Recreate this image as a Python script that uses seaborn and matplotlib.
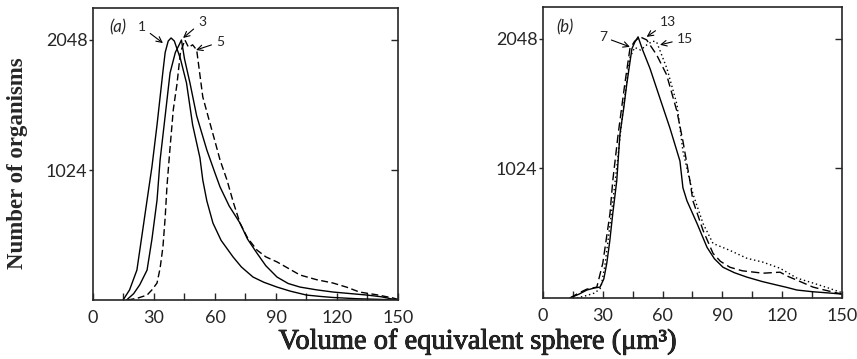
import numpy as np
import pandas as pd
import matplotlib
matplotlib.use("Agg")
import matplotlib.pyplot as plt
import matplotlib.patheffects as pe
import seaborn as sns

# panel (a): curves 1, 3 (solid) and 5 (dashed)
x1 = [14.8, 18, 21.6, 24, 26.6, 29, 31.5, 34.4, 35.5, 37, 38.4, 40, 43, 46, 49, 52.6, 54, 56, 59, 63,
      68.9, 73, 78.7, 84, 90.5, 97, 105, 112, 118, 130, 141, 150]
y1 = [0, 80, 236, 500, 787, 1050, 1380, 1800, 1950, 2040, 2064, 2040, 1900, 1709, 1380, 1120, 945, 780, 606, 470,
      339, 260, 181, 140, 102, 70, 39, 28, 20, 10, 5, 0]

x3 = [16.5, 20, 23, 26.6, 29, 31.5, 33, 35.5, 37.9, 40.5, 42.8, 43.5, 45, 47.7, 51, 56, 60, 62.5, 67,
      72.3, 76, 80.6, 85, 90.5, 96, 101.8, 110, 118, 127, 134.8, 142, 147, 150]
y3 = [0, 50, 120, 236, 480, 787, 1102, 1450, 1788, 1950, 2024, 2048, 1900, 1709, 1450, 1181, 1000, 890, 740,
      606, 480, 370, 270, 181, 130, 102, 80, 63, 50, 39, 25, 8, 0]

x5 = [17, 22, 26.6, 29, 31.5, 33, 34.4, 35.5, 36.4, 37.9, 39.5, 41.3, 43, 45.2, 47, 49, 51, 54, 57.5,
      60, 62.5, 65.9, 69, 72.3, 76, 80.6, 85, 90.5, 96, 101.8, 110, 118, 125, 131, 140, 147.5, 150]
y5 = [0, 15, 39, 80, 134, 250, 418, 650, 900, 1200, 1500, 1700, 1950, 2048, 1990, 2010, 1969, 1600, 1394,
      1250, 1102, 945, 770, 606, 490, 394, 340, 300, 250, 197, 160, 134, 100, 63, 40, 16, 5]

# panel (b): curves 7 (solid), 13 (dashed), 15 (dotted)
x7 = [13.5, 18, 22, 26, 28.6, 30.5, 32, 33.5, 35, 37, 38.6, 40.5, 42, 44.6, 46, 47.7, 50, 53.7, 58.7,
      63.7, 68.7, 70.2, 72.2, 77.3, 82.3, 86, 90.3, 96, 102.3, 110, 117.4, 122, 127.4, 135, 144, 150]
y7 = [0, 30, 63, 80, 86, 150, 275, 450, 667, 926, 1295, 1500, 1687, 1970, 2020, 2064, 1960, 1813, 1577,
      1342, 1083, 871, 769, 588, 400, 310, 243, 200, 165, 130, 102, 85, 63, 50, 39, 31]

x13 = [13.5, 18, 22, 25, 27, 30, 33.6, 35, 37.7, 41, 43.6, 46, 48.7, 52, 57, 62, 67.2, 70.2, 73.7,
       75.2, 80.3, 85.3, 89, 93.8, 100, 110.4, 118.9, 123, 127.4, 135.5, 142, 150]
y13 = [0, 40, 70, 80, 86, 275, 667, 926, 1295, 1687, 1970, 2030, 2064, 2040, 1922, 1765, 1475, 1240, 926,
       769, 534, 353, 290, 243, 215, 196, 204, 170, 141, 86, 60, 31]

x15 = [17, 22, 26, 29, 31, 33, 35, 37.5, 39.5, 41.5, 43.6, 46, 49, 52, 55, 57, 62.2, 67.2, 70.2, 75.2,
       80.3, 85.3, 93.8, 102.3, 110.4, 118.9, 127.4, 135.5, 143, 149, 150]
y15 = [0, 20, 40, 80, 250, 500, 760, 1100, 1400, 1650, 1900, 1980, 1960, 2000, 2030, 2024, 1813, 1530, 1161, 824,
       588, 431, 376, 314, 283, 235, 157, 118, 80, 47, 45]

xticks = [0, 30, 60, 90, 120, 150]
yticks = [1024, 2048]

sns.set_style("ticks")
plt.rcParams['font.family'] = ['Lato', 'DejaVu Sans']

fig = plt.figure(figsize=(8.57, 3.59), dpi=100)
ax_a = fig.add_axes([0.1085, 0.1643, 0.3559, 0.8134])
ax_b = fig.add_axes([0.6336, 0.1699, 0.3489, 0.8106])


def draw(ax, x, y, dashes):
    df = pd.DataFrame({'x': x, 'y': y})
    line = sns.lineplot(data=df, x='x', y='y', ax=ax, color='black', lw=1.0)
    if dashes is not None:
        line.lines[-1].set_dashes(dashes)


draw(ax_a, x1, y1, None)
draw(ax_a, x3, y3, None)
draw(ax_a, x5, y5, (5, 2.5))
draw(ax_b, x7, y7, None)
draw(ax_b, x13, y13, (6, 3))
draw(ax_b, x15, y15, (1, 2))

for ax in (ax_a, ax_b):
    ax.set_xlim(0, 150)
    ax.set_ylim(0, 2300)
    ax.set_xlabel('')
    ax.set_ylabel('')
    ax.set_xticks(xticks)
    ax.set_xticks(np.arange(15, 150, 15), minor=True)
    ax.set_yticks(yticks)
    ax.tick_params(axis='x', which='both', direction='in', length=5, width=1, pad=7,
                   labelsize=13, top=False)
    ax.tick_params(axis='y', direction='out', length=3, width=1, pad=1, labelsize=13)
    for s in ax.spines.values():
        s.set_visible(True)
        s.set_linewidth(1.2)
    sec = ax.secondary_yaxis('right')
    sec.set_yticks(yticks)
    sec.tick_params(direction='in', length=5, width=1, labelright=False)
    sec.spines['right'].set_visible(False)

akw = dict(arrowprops=dict(arrowstyle='->', color='black', lw=0.8, shrinkA=1, shrinkB=0),
           fontsize=10, ha='center', va='center')
ax_a.text(12.3, 2150, '(a)', fontsize=12, style='italic', ha='center', va='center')
ax_a.annotate('1', xy=(34.4, 2024), xytext=(24, 2150), **akw)
ax_a.annotate('3', xy=(44.3, 2064), xytext=(53.6, 2190), **akw)
ax_a.annotate('5', xy=(50.7, 1969), xytext=(62.5, 2032), **akw)

ax_b.text(11, 2142, '(b)', fontsize=12, style='italic', ha='center', va='center')
ax_b.annotate('7', xy=(43.6, 1985), xytext=(30, 2064), **akw)
ax_b.annotate('13', xy=(52, 2064), xytext=(62.7, 2181), **akw)
ax_b.annotate('15', xy=(58.7, 2001), xytext=(71.2, 2048), **akw)

fig.text(0.021, 0.546, 'Number of organisms', rotation=90, ha='center', va='center',
         fontsize=16.5, fontweight='bold', family=['Liberation Serif', 'DejaVu Serif'])
fig.text(0.557, 0.047, 'Volume of equivalent sphere (μm³)', ha='center', va='center',
         fontsize=20.5, family=['Liberation Serif', 'DejaVu Serif'],
         path_effects=[pe.withStroke(linewidth=0.6, foreground='black')])

fig.savefig('out.png', dpi=100)
